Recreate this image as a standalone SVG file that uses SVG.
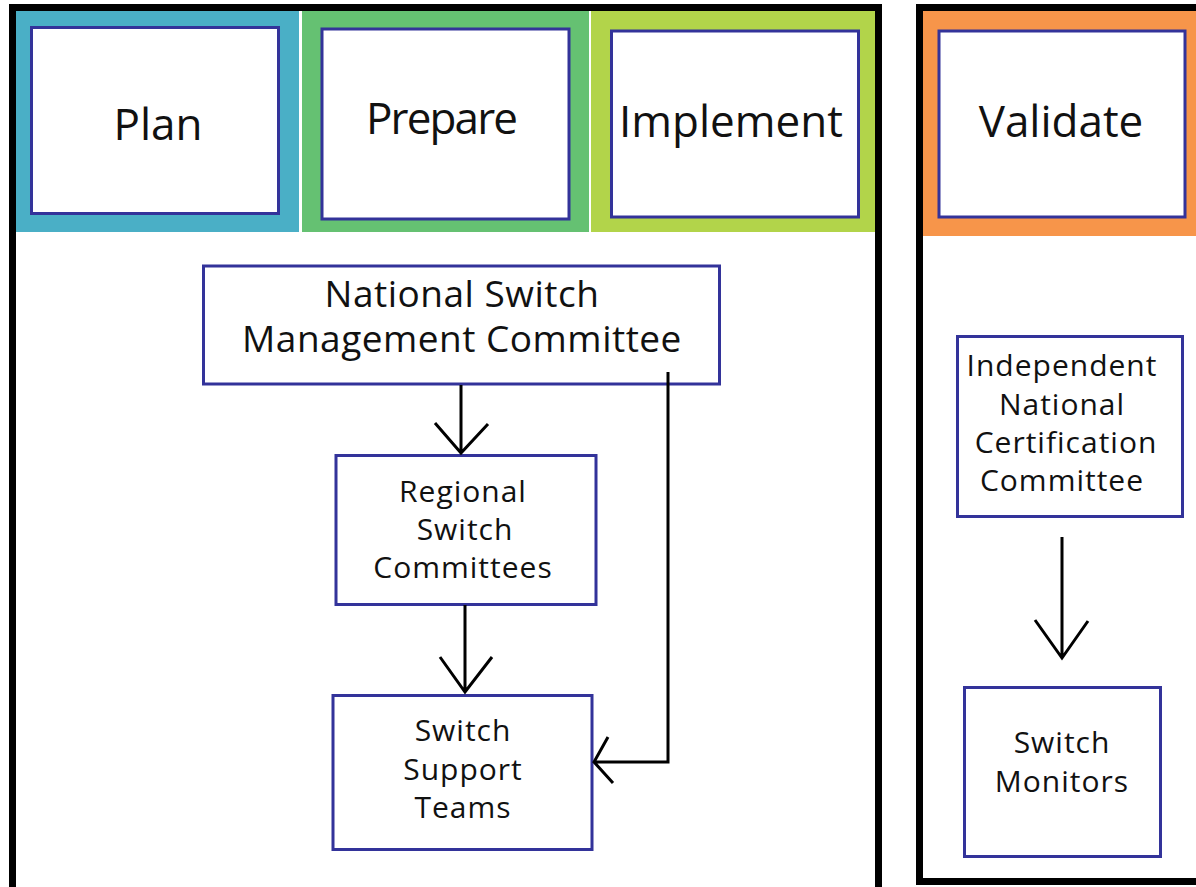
<svg xmlns="http://www.w3.org/2000/svg" width="1196" height="887" viewBox="0 0 1196 887">
<style>
.panel{fill:#fff;stroke:#000;stroke-width:7}
.node{fill:#fff;stroke:#33339a;stroke-width:3}
.t{font-family:"Open Sans","Liberation Sans",sans-serif;fill:#111;text-anchor:middle}
.big{font-size:44px}
.mid{font-size:37px;letter-spacing:0.5px}
.sm{font-size:30px;letter-spacing:1px}
.con{fill:none;stroke:#000;stroke-width:3}
</style>
<rect x="0" y="0" width="1196" height="887" fill="#fff"/>
<g id="left-panel">
<rect class="panel" x="12.5" y="7.5" width="866" height="886"/>
<rect x="16" y="11" width="283" height="221" fill="#4aafc6"/>
<rect x="302" y="11" width="287" height="221" fill="#65c172"/>
<rect x="591" y="11" width="284" height="221" fill="#b2d44a"/>
</g>
<g id="right-panel">
<rect class="panel" x="919.5" y="7.5" width="290" height="874"/>
<rect x="923" y="11" width="273" height="225" fill="#f7954a"/>
</g>
<g id="plan">
<rect class="node" x="31.5" y="27.5" width="247" height="186"/>
<text class="t big" x="158" y="140">Plan</text>
</g>
<g id="prepare">
<rect class="node" x="322" y="29" width="247" height="190"/>
<text class="t big" x="442" y="134" textLength="152">Prepare</text>
</g>
<g id="implement">
<rect class="node" x="611.5" y="31" width="247" height="186"/>
<text class="t big" x="731" y="137">Implement</text>
</g>
<g id="validate">
<rect class="node" x="939" y="31" width="246" height="186"/>
<text class="t big" x="1061" y="137">Validate</text>
</g>
<g id="nsmc">
<rect class="node" x="203.5" y="266" width="516" height="118"/>
<text class="t mid" x="462" y="307">National Switch</text>
<text class="t mid" x="462" y="352">Management Committee</text>
</g>
<g id="regional">
<rect class="node" x="336" y="455.5" width="260" height="149"/>
<text class="t sm" x="463" y="502">Regional</text>
<text class="t sm" x="465" y="540">Switch</text>
<text class="t sm" x="463" y="578">Committees</text>
</g>
<g id="support">
<rect class="node" x="333" y="695.5" width="259" height="154"/>
<text class="t sm" x="463" y="741">Switch</text>
<text class="t sm" x="463" y="780">Support</text>
<text class="t sm" x="463" y="818">Teams</text>
</g>
<g id="certification">
<rect class="node" x="957.5" y="336.5" width="225" height="180"/>
<text class="t sm" x="1062" y="376">Independent</text>
<text class="t sm" x="1062" y="415">National</text>
<text class="t sm" x="1066" y="453">Certification</text>
<text class="t sm" x="1062" y="491">Committee</text>
</g>
<g id="monitors">
<rect class="node" x="964.5" y="687.5" width="196" height="169"/>
<text class="t sm" x="1062" y="753">Switch</text>
<text class="t sm" x="1062" y="792">Monitors</text>
</g>
<g id="connectors">
<path class="con" d="M461 385 V453 M435 423 L461 453 L488 424"/>
<path class="con" d="M465 605 V692 M440 657 L465 692 L492 657"/>
<path class="con" d="M668 372 V762 H594 M608 737 L594 762 L613 783"/>
<path class="con" d="M1062 537 V658 M1035 620 L1062 658 L1088 621"/>
</g>
</svg>
